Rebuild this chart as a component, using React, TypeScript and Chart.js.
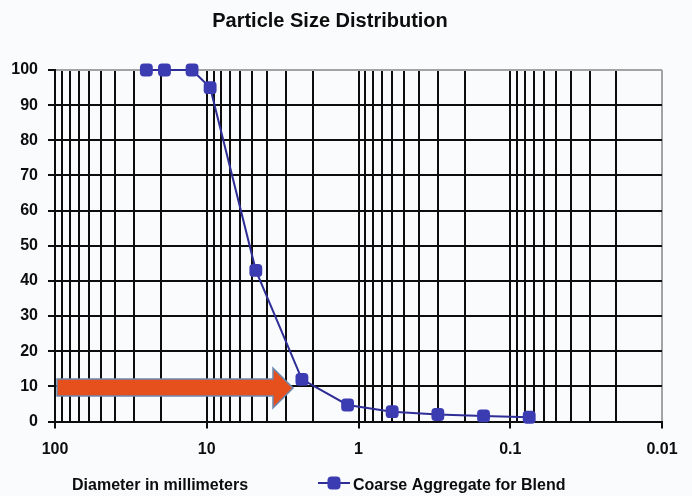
import { useEffect, useRef } from 'react';
import { Chart, registerables } from 'chart.js';

Chart.register(...registerables);

// ---- data ----
const CHART_TITLE = 'Particle Size Distribution';
const X_AXIS_TITLE = 'Diameter in millimeters';
const SERIES_LABEL = 'Coarse Aggregate for Blend';

const SIEVE_SIZES_MM = [25, 19, 12.5, 9.5, 4.75, 2.36, 1.18, 0.6, 0.3, 0.15, 0.075];
const PERCENT_PASSING = [100, 100, 100, 95, 43, 12, 4.7, 2.8, 2.0, 1.6, 1.2];

const X_DECADES = [100, 10, 1, 0.1, 0.01];
const X_TICK_LABELS = ['100', '10', '1', '0.1', '0.01'];
const X_MINOR_MULTIPLES = [2, 3, 4, 5, 6, 7, 8, 9];
const Y_TICK_STEP = 10;

// annotation arrow, in data units
const ARROW_FROM_X = 97;
const ARROW_HEAD_BASE_X = 3.66;
const ARROW_TIP_X = 2.7;
const ARROW_Y = 9.5;
const ARROW_SHAFT = [7.25, 12.1];
const ARROW_HEAD = [3.85, 15.2];

// ---- styles ----
const FONT = '"Liberation Sans", Arial, Helvetica, sans-serif';
const INK = '#0d0d0d';
const BORDER_GREY = '#a3a3a3';
const LINE_COLOR = '#2e2e96';
const MARKER_COLOR = '#3b3bb2';
const ARROW_FILL = '#e5501d';
const ARROW_EDGE = '#6e88ad';
const BG = '#fafbfd';

const gridValues: number[] = [];
X_DECADES.slice(1).forEach((d) => {
  X_MINOR_MULTIPLES.forEach((m) => gridValues.push(Number((d * m).toPrecision(6))));
});
X_DECADES.forEach((d) => gridValues.push(d));
gridValues.sort((a, b) => b - a);

const drawPlugin = {
  id: 'customDecor',
  beforeDraw(chart: any) {
    const { ctx, width, height } = chart;
    ctx.save();
    ctx.fillStyle = BG;
    ctx.fillRect(0, 0, width, height);
    ctx.restore();
  },
  beforeDatasetsDraw(chart: any) {
    const { ctx } = chart;
    const xs = chart.scales.x;
    const ys = chart.scales.y;
    const px = (v: number) => xs.getPixelForValue(v);
    const py = (v: number) => ys.getPixelForValue(v);
    ctx.save();
    ctx.beginPath();
    ctx.moveTo(px(ARROW_FROM_X), py(ARROW_SHAFT[1]));
    ctx.lineTo(px(ARROW_HEAD_BASE_X), py(ARROW_SHAFT[1]));
    ctx.lineTo(px(ARROW_HEAD_BASE_X), py(ARROW_HEAD[1]));
    ctx.lineTo(px(ARROW_TIP_X), py(ARROW_Y));
    ctx.lineTo(px(ARROW_HEAD_BASE_X), py(ARROW_HEAD[0]));
    ctx.lineTo(px(ARROW_HEAD_BASE_X), py(ARROW_SHAFT[0]));
    ctx.lineTo(px(ARROW_FROM_X), py(ARROW_SHAFT[0]));
    ctx.closePath();
    ctx.fillStyle = ARROW_FILL;
    ctx.fill();
    ctx.lineWidth = 1.5;
    ctx.strokeStyle = ARROW_EDGE;
    ctx.stroke();
    ctx.restore();
  },
  afterDraw(chart: any) {
    const { ctx, chartArea } = chart;
    ctx.save();
    ctx.fillStyle = INK;
    ctx.textBaseline = 'alphabetic';
    // title
    ctx.font = `bold 20px ${FONT}`;
    ctx.textAlign = 'center';
    ctx.fillText(CHART_TITLE, 330, 27);
    // x axis title
    ctx.font = `bold 16px ${FONT}`;
    ctx.textAlign = 'left';
    ctx.fillText(X_AXIS_TITLE, chartArea.left + 17, 490);
    // legend
    const lx = 318;
    const ly = 483;
    ctx.strokeStyle = LINE_COLOR;
    ctx.lineWidth = 2;
    ctx.beginPath();
    ctx.moveTo(lx, ly);
    ctx.lineTo(lx + 32, ly);
    ctx.stroke();
    ctx.fillStyle = MARKER_COLOR;
    ctx.beginPath();
    (ctx as any).roundRect(lx + 16 - 6.5, ly - 6.5, 13, 13, 4);
    ctx.fill();
    ctx.fillStyle = INK;
    ctx.fillText(SERIES_LABEL, lx + 35, 490);
    ctx.restore();
  },
};

export default function App() {
  const canvasRef = useRef<HTMLCanvasElement | null>(null);

  useEffect(() => {
    document.body.style.margin = '0';
    const canvas = canvasRef.current;
    if (!canvas) return;
    const chart = new Chart(canvas, {
      type: 'line',
      data: {
        datasets: [
          {
            label: SERIES_LABEL,
            data: SIEVE_SIZES_MM.map((x, i) => ({ x, y: PERCENT_PASSING[i] })),
            borderColor: LINE_COLOR,
            borderWidth: 2,
            backgroundColor: MARKER_COLOR,
            pointStyle: 'rectRounded',
            pointRadius: 7.5,
            pointHoverRadius: 7.5,
            pointBackgroundColor: MARKER_COLOR,
            pointBorderColor: MARKER_COLOR,
            pointBorderWidth: 0,
            tension: 0,
            fill: false,
            clip: false as any,
          },
        ],
      },
      options: {
        animation: false,
        responsive: true,
        maintainAspectRatio: false,
        layout: { padding: { top: 70, right: 30, left: 0, bottom: 0 } },
        plugins: {
          legend: { display: false },
          title: { display: false },
          tooltip: { enabled: false },
        },
        scales: {
          x: {
            type: 'logarithmic',
            reverse: true,
            min: 0.01,
            max: 100,
            afterBuildTicks: (scale: any) => {
              scale.ticks = gridValues.map((v) => ({ value: v, major: X_DECADES.includes(v) }));
            },
            afterFit: (scale: any) => {
              scale.height = 74.5;
            },
            ticks: {
              autoSkip: false,
              maxRotation: 0,
              minRotation: 0,
              padding: 11,
              color: INK,
              font: { family: FONT, size: 16, weight: 'bold' },
              callback: (value: any) => {
                const i = X_DECADES.indexOf(Number(value));
                return i >= 0 ? X_TICK_LABELS[i] : '';
              },
            },
            grid: {
              color: (c: any) => (c.tick && c.tick.value === 0.01 ? BORDER_GREY : INK),
              lineWidth: 2,
              tickLength: 7,
              tickWidth: 2,
              tickColor: (c: any) =>
                c.tick && X_DECADES.includes(c.tick.value) ? INK : 'rgba(0,0,0,0)',
            },
            border: { color: INK, width: 2 },
          },
          y: {
            type: 'linear',
            min: 0,
            max: 100,
            afterFit: (scale: any) => {
              scale.width = 55;
            },
            ticks: {
              stepSize: Y_TICK_STEP,
              padding: 10,
              color: INK,
              font: { family: FONT, size: 16, weight: 'bold' },
            },
            grid: {
              color: (c: any) => (c.tick && c.tick.value === 100 ? BORDER_GREY : INK),
              lineWidth: 2,
              tickLength: 7,
              tickWidth: 2,
              tickColor: INK,
            },
            border: { color: INK, width: 2 },
          },
        },
      } as any,
      plugins: [drawPlugin],
    });
    return () => chart.destroy();
  }, []);

  return (
    <div style={{ position: 'relative', width: '692px', height: '496px' }}>
      <canvas ref={canvasRef} />
    </div>
  );
}
